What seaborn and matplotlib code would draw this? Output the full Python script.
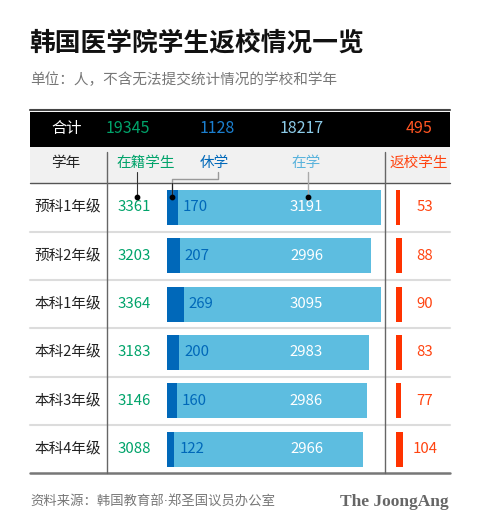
import matplotlib
matplotlib.use("Agg")
import matplotlib.pyplot as plt
import matplotlib.transforms as mtrans
import seaborn as sns
import pandas as pd

# data
grades = ["预科1年级", "预科2年级", "本科1年级", "本科2年级", "本科3年级", "本科4年级"]
enrolled = [3361, 3203, 3364, 3183, 3146, 3088]   # 在籍学生
on_leave = [170, 207, 269, 200, 160, 122]         # 休学
attending = [3191, 2996, 3095, 2983, 2986, 2966]  # 在学
returned = [53, 88, 90, 83, 77, 104]              # 返校学生
totals = ["19345", "1128", "18217", "495"]

GREEN = "#00a36a"
DARK = "#0068b9"
LIGHT = "#5dbde0"
LIGHT_TXT = "#5ab3dc"
RED = "#ff3300"

sns.set_theme(style="white")
plt.rcParams["font.family"] = ["Noto Sans CJK SC", "DejaVu Sans"]

df = pd.DataFrame({"grade": grades, "enrolled": enrolled, "leave": on_leave,
                   "attending": attending, "returned": returned})

W, H = 480, 530
fig = plt.figure(figsize=(4.8, 5.3), dpi=100)
fig.patch.set_facecolor("white")

# background layer in pixel coords
bg = fig.add_axes([0, 0, 1, 1], zorder=0)
bg.set_xlim(0, W)
bg.set_ylim(H, 0)
bg.axis("off")

top_y, head_y, bot_y = 183.3, 146.7, 473.3
row_h = (bot_y - top_y) / len(grades)

bg.text(29, 43, "韩国医学院学生返校情况一览", fontsize=18.5, weight="heavy",
        color="#111", va="center", ha="left")
bg.text(30, 80, "单位：人，不含无法提交统计情况的学校和学年", fontsize=10.5,
        color="#777", va="center", ha="left")

bg.plot([30, 450], [109.5, 109.5], color="#444", lw=1.5)
bg.add_patch(plt.Rectangle((30, 112), 420, head_y - 112, color="black", lw=0))
bg.add_patch(plt.Rectangle((30, head_y), 420, top_y - head_y, color="#f1f1f1", lw=0))
bg.plot([30, 450], [top_y, top_y], color="#555", lw=1)
for i in range(1, len(grades)):
    y = top_y + i * row_h
    bg.plot([30, 450], [y, y], color="#dcdcdc", lw=1.5)
bg.plot([30, 450], [bot_y, bot_y], color="#777", lw=1.8)
bg.plot([106.7, 106.7], [151.5, bot_y], color="#666", lw=1)
bg.plot([384.5, 384.5], [151.5, bot_y], color="#666", lw=1)

# totals band
band_y = 128.5
bg.text(66.7, band_y, "合计", color="white", fontsize=11, ha="center", va="center")
for xc, txt, col in zip([128.3, 217.7, 301.7, 419], totals,
                        [GREEN, "#1b7fcf", "#8ccbe8", "#ff5522"]):
    bg.text(xc, band_y, txt, color=col, fontsize=11.5, ha="center", va="center")

# header labels
hy = 163
bg.text(65.7, hy, "学年", color="#222", fontsize=10.5, ha="center", va="center")
bg.text(146, hy, "在籍学生", color=GREEN, fontsize=10.5, ha="center", va="center")
bg.text(214, hy, "休学", color=DARK, fontsize=10.5, ha="center", va="center")
bg.text(305.7, hy, "在学", color=LIGHT_TXT, fontsize=10.5, ha="center", va="center")
bg.text(418.3, hy, "返校学生", color="#ff4411", fontsize=10.5, ha="center", va="center")

# footer
bg.text(30, 502, "资料来源：韩国教育部·郑圣国议员办公室", color="#777", fontsize=9.6,
        family=["DejaVu Sans", "Noto Sans CJK SC"], ha="left", va="center")
bg.text(449, 502, "The JoongAng", color="#666", fontsize=12.5, weight="bold",
        family=["Liberation Serif", "DejaVu Serif"], ha="right", va="center")

# main stacked bars
scale = 0.0637  # px per student
ax_left = 166.7
ax_w = 3364 * scale
ax = fig.add_axes([ax_left / W, (H - bot_y) / H, ax_w / W, (bot_y - top_y) / H], zorder=1)
sns.barplot(data=df, x="enrolled", y="grade", orient="h", color=LIGHT,
            width=0.72, saturation=1, linewidth=0, ax=ax)
sns.barplot(data=df, x="leave", y="grade", orient="h", color=DARK,
            width=0.72, saturation=1, linewidth=0, ax=ax)
ax.set_xlim(0, 3364)
ax.set_ylim(len(grades) - 0.5, -0.5)
ax.axis("off")
ax.patch.set_alpha(0)

# returned bars
r_w = 30
r_scale = 0.068
ax2 = fig.add_axes([396 / W, (H - bot_y) / H, r_w / W, (bot_y - top_y) / H], zorder=1)
sns.barplot(data=df, x="returned", y="grade", orient="h", color=RED,
            width=0.72, saturation=1, linewidth=0, ax=ax2)
ax2.set_xlim(0, r_w / r_scale)
ax2.set_ylim(len(grades) - 0.5, -0.5)
ax2.axis("off")
ax2.patch.set_alpha(0)

# overlay for labels and connectors
ov = fig.add_axes([0, 0, 1, 1], zorder=3)
ov.set_xlim(0, W)
ov.set_ylim(H, 0)
ov.axis("off")
ov.patch.set_alpha(0)

tr = mtrans.blended_transform_factory(ov.transData, ax.transData)
for i, row in df.iterrows():
    ov.text(68, i, row["grade"], transform=tr, color="#222", fontsize=10.5,
            ha="center", va="center")
    ov.text(134, i, str(row["enrolled"]), transform=tr, color=GREEN, fontsize=10.8,
            ha="center", va="center")
    ov.text(ax_left + row["leave"] * scale + 5, i, str(row["leave"]), transform=tr,
            color=DARK, fontsize=10.8, ha="left", va="center")
    ov.text(306.5, i, str(row["attending"]), transform=tr, color="white",
            fontsize=10.8, ha="center", va="center")
    ov.text(425, i, str(row["returned"]), transform=tr, color="#ff4411",
            fontsize=10.8, ha="center", va="center")

# connectors from header to first row
dot_y = 197
ov.plot([136.7, 136.7], [172, dot_y], color="#333", lw=0.8)
ov.plot([218.3, 218.3, 172, 172], [172, 179.3, 179.3, dot_y], color="#999", lw=1)
ov.plot([172, 172], [183.3, dot_y], color="#222", lw=0.8)
ov.plot([308.3, 308.3], [172, dot_y], color="#aaa", lw=1)
ov.scatter([136.7, 172, 308.3], [dot_y] * 3, s=10, color="black", zorder=5)

fig.savefig("out.png", dpi=100)
